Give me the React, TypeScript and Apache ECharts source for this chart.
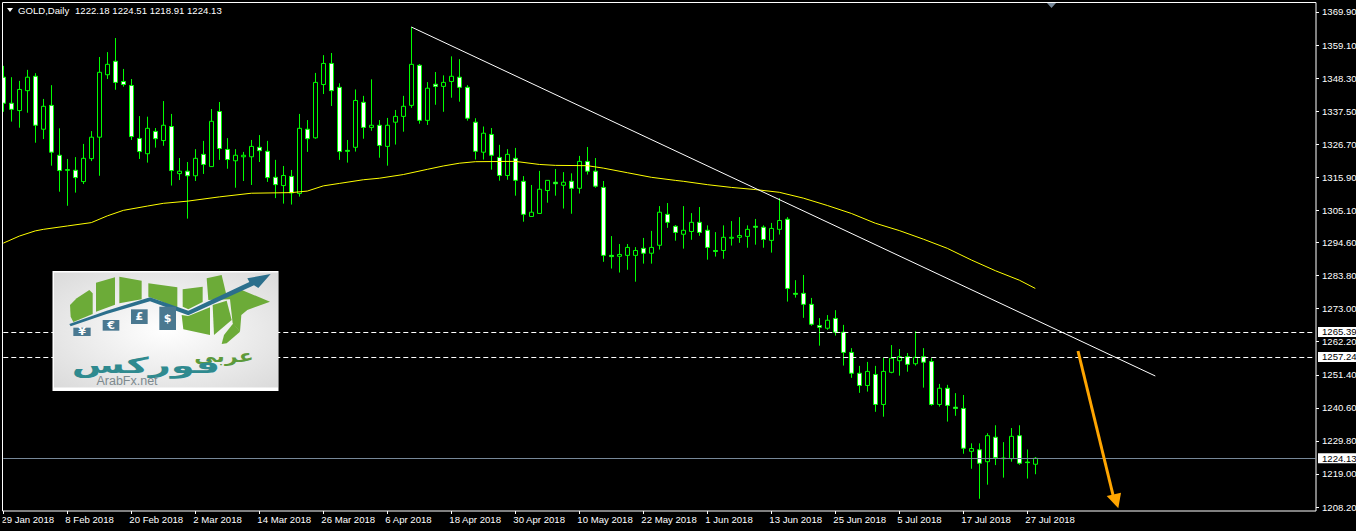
import React, { useEffect, useRef } from "react";
import * as echarts from "echarts";

const tickLabels = ["29 Jan 2018","8 Feb 2018","20 Feb 2018","2 Mar 2018","14 Mar 2018","26 Mar 2018","6 Apr 2018","18 Apr 2018","30 Apr 2018","10 May 2018","22 May 2018","1 Jun 2018","13 Jun 2018","25 Jun 2018","5 Jul 2018","17 Jul 2018","27 Jul 2018"];
const priceTicks = [1369.9,1359.1,1348.3,1337.5,1326.7,1315.9,1305.1,1294.6,1283.8,1273.0,1262.2,1251.4,1240.6,1229.8,1219.0,1208.2];
const levelPrices = [1265.39,1257.24];
const lastPrice = 1224.13;

const opens = [
1348.6,1340.1,1337.7,1344.2,1348.9,1331.6,1339.4,1323.1,1318.4,1318.2,
1314.5,1322.0,1329.0,1349.4,1353.8,1347.2,1345.9,1328.6,1323.6,1330.9,
1327.9,1332.5,1317.1,1317.9,1316.4,1323.4,1319.4,1337.4,1325.0,1321.3,
1322.6,1322.6,1325.7,1324.4,1315.9,1313.2,1316.2,1310.6,1331.6,1328.8,
1346.2,1353.1,1345.3,1324.7,1325.7,1340.4,1332.2,1332.9,1326.0,1333.9,
1335.8,1339.4,1352.5,1334.5,1346.3,1345.6,1347.2,1348.6,1345.3,1333.9,
1324.1,1329.9,1322.4,1316.5,1322.1,1314.6,1303.1,1304.1,1311.6,1314.3,
1313.3,1314.6,1312.3,1321.1,1317.9,1312.6,1290.4,1290.1,1290.4,1290.4,
1292.7,1291.1,1293.7,1303.8,1299.9,1297.3,1298.2,1301.2,1298.6,1292.0,
1292.0,1296.0,1296.3,1296.6,1299.9,1299.6,1295.3,1298.9,1302.2,1278.0,
1278.0,1274.4,1267.5,1266.6,1269.8,1265.3,1258.7,1251.9,1247.9,1251.5,
1241.7,1252.2,1256.0,1257.3,1255.0,1257.3,1255.7,1241.7,1247.0,1240.8,
1240.4,1226.4,1226.9,1223.0,1231.0,1224.2,1224.0,1231.5,1222.9,1222.18];
const closes = [
1340.1,1338.1,1344.6,1348.6,1332.9,1339.1,1324.1,1318.1,1318.2,1315.8,
1322.1,1329.0,1350.2,1352.8,1346.9,1346.2,1329.2,1324.3,1331.9,1328.5,
1332.9,1318.1,1317.9,1316.4,1322.1,1320.1,1334.2,1325.3,1321.7,1323.1,
1323.1,1326.0,1324.6,1315.8,1313.5,1316.5,1310.8,1331.9,1328.5,1346.9,
1353.1,1344.2,1324.3,1324.4,1341.0,1332.2,1332.9,1326.3,1332.9,1335.8,
1339.1,1352.8,1334.5,1345.0,1345.6,1346.9,1348.9,1345.3,1335.2,1324.4,
1330.3,1323.1,1316.5,1323.4,1314.9,1303.8,1304.5,1312.0,1314.9,1313.8,
1314.3,1312.3,1321.1,1317.9,1313.0,1290.4,1290.0,1290.7,1293.0,1292.0,
1291.1,1293.0,1304.5,1301.2,1297.9,1298.6,1301.2,1297.9,1293.0,1291.7,
1296.3,1296.3,1296.9,1298.9,1299.6,1295.6,1299.2,1301.8,1279.6,1277.7,
1274.4,1267.9,1266.9,1269.2,1265.3,1258.7,1251.9,1247.9,1252.5,1241.7,
1252.5,1256.8,1257.3,1254.8,1257.1,1255.5,1241.7,1247.0,1241.4,1240.4,
1227.4,1227.3,1222.5,1231.5,1224.4,1224.0,1231.3,1222.5,1222.7,1224.13];
const lows = [
1337.3,1334.1,1332.1,1337.0,1327.2,1328.4,1319.7,1311.2,1306.6,1310.9,
1313.7,1321.2,1316.4,1348.0,1344.5,1345.5,1328.1,1321.9,1320.7,1325.6,
1326.2,1313.2,1315.0,1302.4,1314.7,1317.0,1319.4,1321.6,1318.7,1312.5,
1314.7,1313.4,1320.9,1314.4,1309.1,1307.3,1307.0,1309.6,1324.2,1328.5,
1343.1,1339.2,1321.6,1320.7,1324.3,1328.5,1331.1,1322.3,1319.7,1326.6,
1330.8,1338.6,1333.4,1333.0,1339.6,1337.3,1341.9,1340.6,1334.4,1321.7,
1321.7,1318.4,1314.8,1315.1,1309.9,1301.4,1303.1,1304.0,1307.6,1309.9,
1305.7,1304.0,1310.6,1316.8,1312.5,1288.3,1286.1,1284.8,1285.7,1281.8,
1287.7,1287.7,1292.3,1299.4,1295.2,1292.6,1295.5,1296.8,1289.0,1290.0,
1289.3,1293.6,1294.5,1292.9,1293.9,1292.9,1291.3,1297.2,1275.3,1276.6,
1270.0,1267.4,1260.9,1266.1,1264.2,1254.4,1250.4,1245.5,1245.9,1239.3,
1237.7,1251.9,1251.1,1252.4,1254.4,1247.2,1241.3,1241.0,1236.1,1238.0,
1225.6,1220.7,1210.9,1215.5,1221.9,1217.8,1223.0,1222.0,1217.5,1218.91];
const highs = [
1352.3,1348.6,1347.4,1351.0,1349.9,1341.5,1346.0,1331.9,1321.9,1322.5,
1326.8,1331.0,1355.2,1356.8,1361.4,1351.3,1348.0,1335.9,1335.7,1332.0,
1340.8,1336.6,1322.2,1320.9,1325.1,1327.8,1338.2,1340.5,1328.7,1325.1,
1324.2,1328.1,1329.7,1327.8,1321.6,1319.6,1318.3,1336.6,1334.6,1350.0,
1355.8,1356.5,1346.6,1328.1,1344.6,1342.5,1347.9,1334.6,1335.3,1337.9,
1342.5,1365.0,1352.9,1347.0,1350.3,1349.2,1355.4,1354.5,1346.0,1335.2,
1332.5,1332.0,1326.5,1325.1,1325.5,1316.3,1313.4,1318.0,1314.9,1318.6,
1317.6,1317.2,1322.9,1325.8,1322.2,1314.7,1296.7,1294.1,1294.1,1293.1,
1296.1,1298.4,1306.5,1307.5,1300.3,1306.5,1304.2,1306.2,1300.2,1298.0,
1300.2,1301.6,1302.9,1300.2,1302.3,1300.2,1301.0,1309.1,1302.9,1282.3,
1284.0,1276.5,1269.9,1270.9,1272.5,1267.7,1260.1,1254.3,1255.6,1254.3,
1256.9,1261.1,1259.8,1258.5,1265.6,1260.1,1256.8,1248.4,1248.1,1245.4,
1244.8,1229.0,1229.0,1232.3,1234.9,1229.4,1234.0,1234.9,1227.0,1224.51];

const maIndex = [0,2,4,5,8,11,13,15,18,20,23,27,31,36,38,40,42,45,47,50,53,55,57,59,64,67,69,73,75,78,81,84,85,88,91,94,97,100,103,106,109,112,115,118,121,124,127,129];
const maValues = [1294.4,1296.7,1298.4,1298.9,1300.0,1301.1,1303.3,1305.1,1306.5,1307.4,1308.1,1309.5,1310.7,1310.9,1311.4,1313.1,1313.9,1315.1,1315.6,1316.8,1318.5,1319.6,1320.5,1321.0,1321.1,1320.1,1319.8,1319.7,1318.9,1317.4,1315.9,1314.9,1314.6,1313.5,1312.6,1311.9,1311.0,1309.1,1306.7,1304.1,1300.9,1298.5,1295.7,1292.7,1288.9,1285.4,1282.3,1279.6];

const trendStart = { bar: 51, price: 1365.0 };
const trendEnd = { bar: 144, price: 1251.0 };

const SLOTS = 165;
const UI_FONT = "Liberation Sans";
const UI_SIZE = 9.6;

const boxed = [...levelPrices, lastPrice];
const categories = Array.from({ length: SLOTS }, (_, i) => (i % 8 === 0 && i / 8 < tickLabels.length ? tickLabels[i / 8] : ""));

const green = "#00ff00";
const logoGreen = "#6cab38";

function poly(zoomPts: number[][], fill: any) {
  return {
    type: "polygon",
    z: 120,
    shape: { points: zoomPts.map(([x, y]) => [40 + x / 3, 260 + y / 3]) },
    style: { fill },
  };
}

function coin(x: number, y: number, w: number, h: number, ch: string) {
  return [
    { type: "rect", z: 122, shape: { x: 40 + x / 3, y: 260 + y / 3, width: w / 3, height: h / 3 }, style: { fill: "#4a7890" } },
    {
      type: "text", z: 123, x: 40 + (x + w / 2) / 3, y: 260 + (y + h / 2) / 3,
      style: { text: ch, fill: "#ffffff", font: "bold 11px 'DejaVu Sans'", align: "center", verticalAlign: "middle" },
    },
  ];
}

const logo = [
  { type: "rect", z: 119, shape: { x: 52.5, y: 271, width: 226, height: 120 }, style: { fill: "#ffffff" } },
  {
    type: "rect", z: 119, shape: { x: 54, y: 272.5, width: 224, height: 115 },
    style: {
      fill: new echarts.graphic.RadialGradient(0.5, 0.5, 0.75, [
        { offset: 0, color: "#ffffff" },
        { offset: 1, color: "#d8d8d8" },
      ]),
    },
  },
  poly([[90,135],[110,115],[148,90],[158,100],[158,162],[100,186],[92,170]], logoGreen),
  poly([[168,68],[225,52],[225,134],[168,155]], logoGreen),
  poly([[238,50],[305,62],[305,118],[238,130]], logoGreen),
  poly([[325,70],[412,82],[412,146],[360,122],[325,110]], logoGreen),
  poly([[428,88],[488,80],[488,126],[445,148],[428,140]], logoGreen),
  poly([[500,55],[545,45],[558,100],[600,88],[690,125],[622,150],[604,165],[600,215],[578,190],[570,118],[505,120]], logoGreen),
  poly([[425,165],[445,168],[510,142],[510,225],[430,208]], logoGreen),
  poly([[518,135],[560,122],[575,180],[522,225]], logoGreen),
  poly([[545,252],[552,225],[580,190],[600,215],[560,250]], logoGreen),
  poly([[88,192],[200,152],[330,112],[445,152],[628,66],[622,55],[692,42],[655,84],[642,76],[445,166],[330,124],[200,162],[92,199]], "#2b6f8c"),
  ...coin(100, 203, 52, 25, "¥"),
  ...coin(188, 180, 50, 32, "€"),
  ...coin(273, 148, 50, 44, "£"),
  ...coin(358, 140, 50, 70, "$"),
  {
    type: "text", z: 123, x: 224, y: 356, scaleX: 1.3,
    style: { text: "عربي", fill: "#5d9a3b", font: "bold 17px 'DejaVu Sans'", align: "center", verticalAlign: "middle" },
  },
  {
    type: "text", z: 123, x: 146, y: 365, scaleX: 1.75,
    style: { text: "فوركس", fill: "#2f8a8f", font: "bold 22px 'DejaVu Sans'", align: "center", verticalAlign: "middle" },
  },
  {
    type: "text", z: 124, x: 127, y: 381,
    style: { text: "ArabFx.net", fill: "#7d8a8f", font: "12.5px 'Liberation Sans'", align: "center", verticalAlign: "middle" },
  },
];

export default function App() {
  const ref = useRef<HTMLDivElement>(null);
  useEffect(() => {
    document.body.style.margin = "0";
    document.body.style.background = "#000";
    const chart = echarts.init(ref.current!, undefined, { renderer: "svg" });
    const levelLine = (v: number, color: string, type: any) => [
      { xAxis: 0, yAxis: v, lineStyle: { color, type, width: 1 } },
      { xAxis: SLOTS - 1, yAxis: v },
    ];
    chart.setOption({
      animation: false,
      backgroundColor: "#000000",
      title: {
        text: "GOLD,Daily",
        left: 18, top: 5, padding: 0,
        textStyle: { color: "#ffffff", fontFamily: UI_FONT, fontSize: UI_SIZE, fontWeight: "normal" },
      },
      grid: { left: -0.7, top: 2.5, width: SLOTS * 8, height: 508.5, containLabel: false, outerBoundsMode: "none" },
      xAxis: {
        type: "category",
        data: categories,
        boundaryGap: true,
        axisLine: { show: false },
        axisTick: { show: true, alignWithLabel: true, length: 3, lineStyle: { color: "#ffffff" },
          interval: (i: number) => categories[i] !== "" },
        axisLabel: {
          show: true, interval: (i: number) => categories[i] !== "", hideOverlap: false,
          color: "#ffffff", fontFamily: UI_FONT, fontSize: UI_SIZE, align: "left", margin: 3, padding: [0, 0, 0, -2],
        },
        splitLine: { show: false },
      },
      yAxis: {
        type: "value",
        position: "right",
        offset: -3.3,
        min: 1206.9,
        max: 1373.0,
        scale: true,
        axisLine: { show: false },
        splitLine: { show: false },
        axisTick: { show: true, length: 3, lineStyle: { color: "#ffffff" }, customValues: priceTicks },
        axisLabel: {
          show: true,
          customValues: [...priceTicks, ...boxed],
          margin: 2,
          formatter: (v: number) => {
            const s = v.toFixed(2);
            return boxed.includes(v) ? `{box|${s}}` : `{n|${s}}`;
          },
          rich: {
            n: { color: "#ffffff", fontFamily: UI_FONT, fontSize: UI_SIZE, padding: [0, 0, 0, 4] },
            box: { color: "#000000", backgroundColor: "#ffffff", fontFamily: UI_FONT, fontSize: UI_SIZE, padding: [0, 1, 0, 4], lineHeight: 12 },
          },
        },
      },
      series: [
        {
          type: "candlestick",
          z: 2,
          barWidth: 4,
          data: opens.map((o, i) => [o, closes[i], lows[i], highs[i]]),
          itemStyle: { color: "#000000", color0: "#ffffff", borderColor: green, borderColor0: green, borderWidth: 1 },
        },
        {
          type: "line",
          z: 3,
          name: "MA",
          data: maIndex.map((x, i) => [x, maValues[i]]),
          showSymbol: false,
          symbol: "none",
          lineStyle: { color: "#ffff00", width: 1 },
          markLine: {
            silent: true,
            symbol: "none",
            label: { show: false },
            animation: false,
            data: [
              [
                { xAxis: trendStart.bar, yAxis: trendStart.price, lineStyle: { color: "#ffffff", width: 1, type: "solid" } },
                { xAxis: trendEnd.bar, yAxis: trendEnd.price },
              ],
              ...levelPrices.map((v) => levelLine(v, "#ffffff", [5, 3])),
              levelLine(lastPrice, "#778899", "solid"),
            ],
          },
        },
      ],
      graphic: [
        { type: "rect", z: 100, shape: { x: 0, y: 0, width: 2.5, height: 531 }, style: { fill: "#000000" } },
        { type: "rect", z: 101, shape: { x: 2.5, y: 2.5, width: 1313.5, height: 508.5 }, style: { fill: "none", stroke: "#ffffff", lineWidth: 1 } },
        { type: "polygon", z: 102, shape: { points: [[7, 8], [13, 8], [10, 12]] }, style: { fill: "#ffffff" } },
        { type: "polygon", z: 102, shape: { points: [[1047, 3], [1056, 3], [1051.5, 8]] }, style: { fill: "#778899" } },
        {
          type: "text", z: 102, x: 75, y: 10,
          style: { text: "1222.18 1224.51 1218.91 1224.13", fill: "#ffffff", font: `${UI_SIZE}px '${UI_FONT}'`, verticalAlign: "middle" },
        },
        { type: "line", z: 110, shape: { x1: 1078, y1: 351, x2: 1113, y2: 495 }, style: { stroke: "#ffa500", lineWidth: 3 } },
        { type: "polygon", z: 110, shape: { points: [[1106.7, 496], [1121, 492.7], [1118.3, 508.3]] }, style: { fill: "#ffa500" } },
        ...logo,
      ],
    });
    return () => chart.dispose();
  }, []);
  return <div ref={ref} style={{ position: "fixed", left: 0, top: 0, width: 1356, height: 531 }} />;
}
